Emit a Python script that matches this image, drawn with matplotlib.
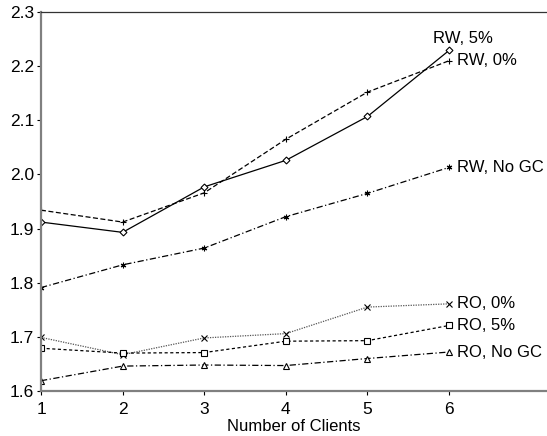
import matplotlib
matplotlib.use('Agg')
import matplotlib.pyplot as plt

clients = [1, 2, 3, 4, 5, 6]

rw_5 = [1.912, 1.893, 1.977, 2.026, 2.107, 2.229]
rw_0 = [1.934, 1.912, 1.966, 2.065, 2.152, 2.210]
rw_nogc = [1.791, 1.833, 1.864, 1.922, 1.965, 2.013]
ro_0 = [1.699, 1.667, 1.698, 1.706, 1.755, 1.761]
ro_5 = [1.679, 1.670, 1.671, 1.692, 1.693, 1.721]
ro_nogc = [1.619, 1.646, 1.648, 1.647, 1.660, 1.672]

plt.rcParams['font.family'] = ['Liberation Sans', 'DejaVu Sans']

fig = plt.figure(figsize=(5.47, 4.36), dpi=100)
ax = fig.add_axes([41 / 547, 1 - 391 / 436, 506 / 547, 379 / 436])

ms = 4
ax.plot(clients, rw_5, color='black', lw=0.9, ls='-', marker='D', ms=3.5,
        mfc='white', mec='black', mew=0.8)
ax.plot(clients, rw_0, color='black', lw=0.9, ls=(0, (4, 2)), marker='+', ms=ms,
        mew=0.8)
ax.plot(clients, rw_nogc, color='black', lw=0.9, ls=(0, (5, 2, 1, 2)), marker=(6, 2, 0),
        ms=ms, mew=0.8)
ax.plot(clients, ro_0, color='#555555', lw=0.9, ls=(0, (1, 1)), marker='x', ms=ms,
        mec='black', mew=0.8)
ax.plot(clients, ro_5, color='black', lw=0.9, ls=(0, (2.5, 2)), marker='s', ms=ms,
        mfc='white', mec='black', mew=0.8)
ax.plot(clients, ro_nogc, color='black', lw=0.9, ls=(0, (5, 2, 1, 2)), marker='^', ms=ms,
        mfc='white', mec='black', mew=0.8)

fs = 12
ax.text(5.8, rw_5[-1] + 0.008, 'RW, 5%', fontsize=fs, ha='left', va='bottom')
labels = [('RW, 0%', rw_0), ('RW, No GC', rw_nogc), ('RO, 0%', ro_0),
          ('RO, 5%', ro_5), ('RO, No GC', ro_nogc)]
for txt, ys in labels:
    ax.text(6.1, ys[-1], txt, fontsize=fs, ha='left', va='center')

ax.set_xlim(1, 7.2)
ax.set_ylim(1.6, 2.3)
ax.set_xticks(clients)
ax.set_yticks([1.6, 1.7, 1.8, 1.9, 2.0, 2.1, 2.2, 2.3])
ax.set_yticklabels(['1.6', '1.7', '1.8', '1.9', '2.0', '2.1', '2.2', '2.3'])
ax.tick_params(labelsize=12.5, length=3, width=0.8, pad=2)
ax.tick_params(axis='x', pad=5)
ax.set_xlabel('Number of Clients', fontsize=fs, labelpad=1)

for s in ['left', 'bottom']:
    ax.spines[s].set_color('#808080')
    ax.spines[s].set_linewidth(1.6)
ax.spines['top'].set_color('#333333')
ax.spines['top'].set_linewidth(0.9)
ax.spines['right'].set_visible(False)

fig.savefig('out.png', dpi=100)
